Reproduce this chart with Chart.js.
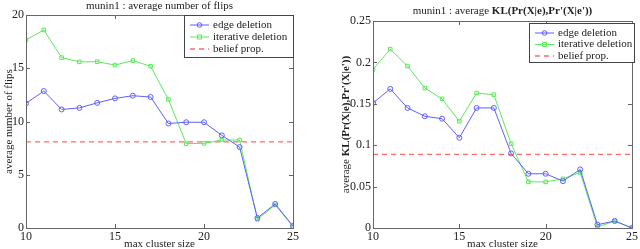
<!DOCTYPE html>
<html>
<head>
<meta charset="utf-8">
<script src="https://cdn.jsdelivr.net/npm/chart.js@4/dist/chart.umd.min.js"></script>
<style>
  html, body { margin: 0; padding: 0; background: #fff; }
  .box { position: absolute; top: 0; width: 320px; height: 249px; }
</style>
</head>
<body>
<div class="box" style="left:0"><canvas id="flipsChart" width="320" height="249"></canvas></div>
<div class="box" style="left:320px"><canvas id="klChart" width="320" height="249"></canvas></div>
<script>
// datos
const clusterSizes = [10, 11, 12, 13, 14, 15, 16, 17, 18, 19, 20, 21, 22, 23, 24, 25];

const flipsEdge = [11.7, 12.86, 11.13, 11.28, 11.75, 12.17, 12.42, 12.3, 9.81, 9.93, 9.93, 8.7, 7.6, 0.94, 2.26, 0.19];
const flipsIterative = [17.67, 18.6, 16.0, 15.6, 15.62, 15.3, 15.72, 15.19, 12.07, 7.92, 7.95, 8.26, 8.26, 0.81, 2.17, 0.12];
const flipsBelief = 8.08;

const klEdge = [0.151, 0.168, 0.145, 0.135, 0.132, 0.109, 0.145, 0.145, 0.090, 0.0655, 0.0655, 0.0566, 0.0707, 0.004, 0.0085, 0.0];
const klIterative = [0.1915, 0.216, 0.1956, 0.169, 0.156, 0.129, 0.163, 0.161, 0.1017, 0.0557, 0.0557, 0.0594, 0.067, 0.0012, 0.0085, 0.0];
const klBelief = 0.089;

const seriesLabels = ['edge deletion', 'iterative deletion', 'belief prop.'];

const BLUE = 'rgb(95,95,255)';
const GREEN = 'rgb(90,235,90)';
const RED = 'rgb(255,105,105)';
const FRAME = '#666';
const TEXT = '#222';
const FONT = 'Liberation Serif';

function toPoints(values) {
    return values.map((v, i) => ({ x: clusterSizes[i], y: v }));
}

function flatLine(value) {
    return [
        { x: clusterSizes[0], y: value },
        { x: clusterSizes[clusterSizes.length - 1], y: value }
    ];
}

// marco, ticks hacia adentro, leyenda y titulos
const matlabStyle = {
    id: 'matlabStyle',
    afterDatasetsDraw(chart, args, opts) {
        const ctx = chart.ctx;
        const a = chart.chartArea;
        const xs = chart.scales.x, ys = chart.scales.y;
        ctx.save();
        ctx.strokeStyle = FRAME;
        ctx.lineWidth = 1;
        ctx.strokeRect(Math.round(a.left) + 0.5, Math.round(a.top) + 0.5,
            Math.round(a.right - a.left), Math.round(a.bottom - a.top));
        ctx.beginPath();
        xs.ticks.forEach(t => {
            const px = Math.round(xs.getPixelForValue(t.value)) + 0.5;
            ctx.moveTo(px, a.bottom); ctx.lineTo(px, a.bottom - 4);
            ctx.moveTo(px, a.top); ctx.lineTo(px, a.top + 4);
        });
        ys.ticks.forEach(t => {
            const py = Math.round(ys.getPixelForValue(t.value)) + 0.5;
            ctx.moveTo(a.left, py); ctx.lineTo(a.left + 4, py);
            ctx.moveTo(a.right, py); ctx.lineTo(a.right - 4, py);
        });
        ctx.stroke();

        // leyenda
        const lg = opts.legend;
        ctx.fillStyle = '#fff';
        ctx.fillRect(lg.x, lg.y, lg.w, lg.h);
        ctx.strokeStyle = '#444';
        ctx.strokeRect(lg.x + 0.5, lg.y + 0.5, lg.w, lg.h);
        ctx.font = '11px "' + FONT + '"';
        ctx.textBaseline = 'middle';
        ctx.textAlign = 'left';
        chart.data.datasets.forEach((ds, i) => {
            const y = lg.y + lg.rowTop + i * lg.rowGap;
            const x0 = lg.x + 6, x1 = lg.x + 25;
            ctx.strokeStyle = ds.borderColor;
            ctx.lineWidth = ds.borderWidth;
            ctx.setLineDash(ds.borderDash || []);
            ctx.beginPath();
            ctx.moveTo(x0, y); ctx.lineTo(x1, y);
            ctx.stroke();
            ctx.setLineDash([]);
            if (ds.pointRadius > 0) {
                const mx = (x0 + x1) / 2;
                ctx.lineWidth = 1;
                ctx.beginPath();
                if (ds.pointStyle === 'rect') ctx.rect(mx - 2, y - 2, 4, 4);
                else ctx.arc(mx, y, 2.3, 0, Math.PI * 2);
                ctx.stroke();
            }
            ctx.fillStyle = TEXT;
            ctx.fillText(ds.label, lg.x + 29, y);
        });

        // titulos
        drawRich(ctx, opts.title, (a.left + a.right) / 2, opts.titleY, 0);
        drawRich(ctx, opts.xTitle, (a.left + a.right) / 2, chart.height - 5, 0);
        drawRich(ctx, opts.yTitle, opts.yTitleX, (a.top + a.bottom) / 2, -Math.PI / 2);
        ctx.restore();
    }
};

// texto con partes en negrita: [[texto, negrita], ...]
function drawRich(ctx, parts, cx, cy, rot) {
    ctx.save();
    ctx.translate(cx, cy);
    ctx.rotate(rot);
    ctx.fillStyle = TEXT;
    ctx.textBaseline = 'middle';
    ctx.textAlign = 'left';
    const fontFor = b => (b ? 'bold ' : '') + '11px "' + FONT + '"';
    let total = 0;
    parts.forEach(p => { ctx.font = fontFor(p[1]); total += ctx.measureText(p[0]).width; });
    let x = -total / 2;
    parts.forEach(p => {
        ctx.font = fontFor(p[1]);
        ctx.fillText(p[0], x, 0);
        x += ctx.measureText(p[0]).width;
    });
    ctx.restore();
}

// 0.1 en vez de 0.10, como en matlab
function shortNumber(value) {
    return String(parseFloat(value.toFixed(3)));
}

function makeChart(id, edge, iterative, belief, cfg) {
    const ctx = document.getElementById(id).getContext('2d');
    new Chart(ctx, {
        type: 'line',
        data: {
            datasets: [
                {
                    label: seriesLabels[0],
                    data: toPoints(edge),
                    borderColor: BLUE,
                    borderWidth: 1,
                    pointStyle: 'circle',
                    pointRadius: 2.5,
                    pointBorderColor: BLUE,
                    pointBackgroundColor: 'rgba(0,0,0,0)',
                    pointBorderWidth: 1
                },
                {
                    label: seriesLabels[1],
                    data: toPoints(iterative),
                    borderColor: GREEN,
                    borderWidth: 1,
                    pointStyle: 'rect',
                    pointRadius: 2.5,
                    pointBorderColor: GREEN,
                    pointBackgroundColor: 'rgba(0,0,0,0)',
                    pointBorderWidth: 1
                },
                {
                    label: seriesLabels[2],
                    data: flatLine(belief),
                    borderColor: RED,
                    borderWidth: 1.3,
                    borderDash: [5, 4],
                    pointRadius: 0
                }
            ]
        },
        options: {
            responsive: false,
            animation: false,
            layout: { padding: cfg.padding },
            plugins: {
                legend: { display: false },
                tooltip: { enabled: false },
                matlabStyle: {
                    legend: cfg.legend,
                    title: cfg.title,
                    titleY: cfg.titleY,
                    xTitle: [['max cluster size', false]],
                    yTitle: cfg.yTitle,
                    yTitleX: cfg.yTitleX
                }
            },
            scales: {
                x: {
                    type: 'linear',
                    min: 10, max: 25,
                    ticks: { stepSize: 5, padding: 2, color: TEXT, font: { family: FONT, size: 12 } },
                    grid: { display: false, drawTicks: false },
                    border: { display: false },
                    afterFit: s => { s.height = 21; }
                },
                y: {
                    min: 0, max: cfg.yMax,
                    ticks: {
                        stepSize: cfg.yStep, padding: 2, color: TEXT,
                        font: { family: FONT, size: 12 },
                        callback: v => shortNumber(v)
                    },
                    grid: { display: false, drawTicks: false },
                    border: { display: false },
                    afterFit: s => { s.width = cfg.yWidth; }
                }
            }
        },
        plugins: [matlabStyle]
    });
}

// numero de flips
makeChart('flipsChart', flipsEdge, flipsIterative, flipsBelief, {
    padding: { left: 0, right: 27, top: 15, bottom: 0 },
    yWidth: 26, yMax: 20, yStep: 5,
    legend: { x: 184, y: 15, w: 109, h: 42, rowTop: 10, rowGap: 12 },
    title: [['munin1 : average number of flips', false]],
    titleY: 6,
    yTitle: [['average number of flips', false]],
    yTitleX: 9
});

// divergencia KL
makeChart('klChart', klEdge, klIterative, klBelief, {
    padding: { left: 0, right: 6, top: 21, bottom: 0 },
    yWidth: 53, yMax: 0.25, yStep: 0.05,
    legend: { x: 209, y: 23, w: 105, h: 39, rowTop: 10, rowGap: 11.5 },
    title: [['munin1 : average ', false], ["KL(Pr(X|e),Pr'(X|e'))", true]],
    titleY: 11,
    yTitle: [['average ', false], ["KL(Pr(X|e),Pr'(X|e'))", true]],
    yTitleX: 26
});
</script>
</body>
</html>
